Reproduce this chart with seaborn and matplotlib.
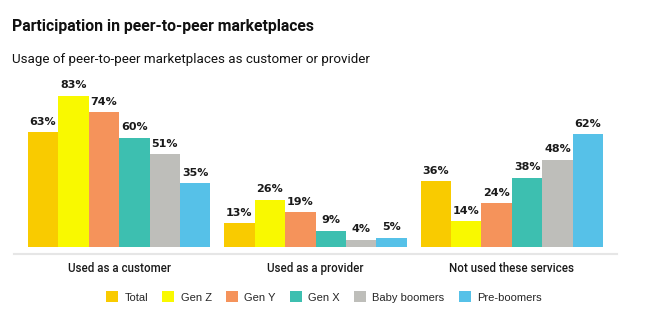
import matplotlib
matplotlib.use("Agg")
import matplotlib.pyplot as plt
import seaborn as sns
import pandas as pd
from matplotlib.patches import Patch

categories = ["Used as a customer", "Used as a provider", "Not used these services"]
groups = ["Total", "Gen Z", "Gen Y", "Gen X", "Baby boomers", "Pre-boomers"]
total = [63, 13, 36]
gen_z = [83, 26, 14]
gen_y = [74, 19, 24]
gen_x = [60, 9, 38]
baby_boomers = [51, 4, 48]
pre_boomers = [35, 5, 62]
colors = ["#F9CB00", "#F9F900", "#F5935B", "#3DBFB0", "#BEBEBA", "#56C1E8"]

series = [total, gen_z, gen_y, gen_x, baby_boomers, pre_boomers]
rows = []
for g, vals in zip(groups, series):
    for c, v in zip(categories, vals):
        rows.append({"category": c, "group": g, "value": v})
df = pd.DataFrame(rows)

sns.set_theme(style="white")
plt.rcParams["font.family"] = ["Liberation Sans", "DejaVu Sans"]

fig = plt.figure(figsize=(6.52, 3.26), dpi=100)
ax = fig.add_axes([14 / 652, 1 - 254 / 326, 603 / 652, 160 / 326])

sns.barplot(data=df, x="category", y="value", hue="group", hue_order=groups,
            order=categories, palette=colors, width=0.93, gap=0, ax=ax,
            saturation=1, legend=False, linewidth=0)

for cont in ax.containers:
    ax.bar_label(cont, fmt="%d%%", padding=4, fontsize=8, fontweight="bold",
                 color="#1a1a1a", family=["DejaVu Sans"])

ax.set_xlim(-0.535, 2.535)
ax.set_ylim(-3.85, 84)
ax.set_xlabel("")
ax.set_ylabel("")
ax.set_yticks([])
ax.tick_params(axis="x", length=0, pad=6, labelsize=8.3, colors="#1a1a1a")
for lbl in ax.get_xticklabels():
    lbl.set_family(["Roboto", "Liberation Sans"])
    lbl.set_fontweight("medium")
for s in ["top", "right", "left"]:
    ax.spines[s].set_visible(False)
ax.spines["bottom"].set_color("#E6E6E6")
ax.spines["bottom"].set_linewidth(1.5)

fig.text(12 / 652, 1 - 27 / 326, "Participation in peer-to-peer marketplaces",
         fontsize=11.3, fontweight="bold", va="center", ha="left", color="#111111",
         family=["Roboto", "Liberation Sans"])
fig.text(12 / 652, 1 - 59 / 326, "Usage of peer-to-peer marketplaces as customer or provider",
         fontsize=9.6, va="center", ha="left", color="#111111",
         family=["Roboto", "Liberation Sans"])

handles = [Patch(facecolor=c, edgecolor="none") for c in colors]
fig.legend(handles, groups, loc="center", bbox_to_anchor=(324 / 652, 1 - 297 / 326),
           ncol=6, frameon=False, fontsize=8, handlelength=1.08, handleheight=1.08,
           handletextpad=0.55, columnspacing=1.3)

fig.savefig("out.png", dpi=100, facecolor="white")
